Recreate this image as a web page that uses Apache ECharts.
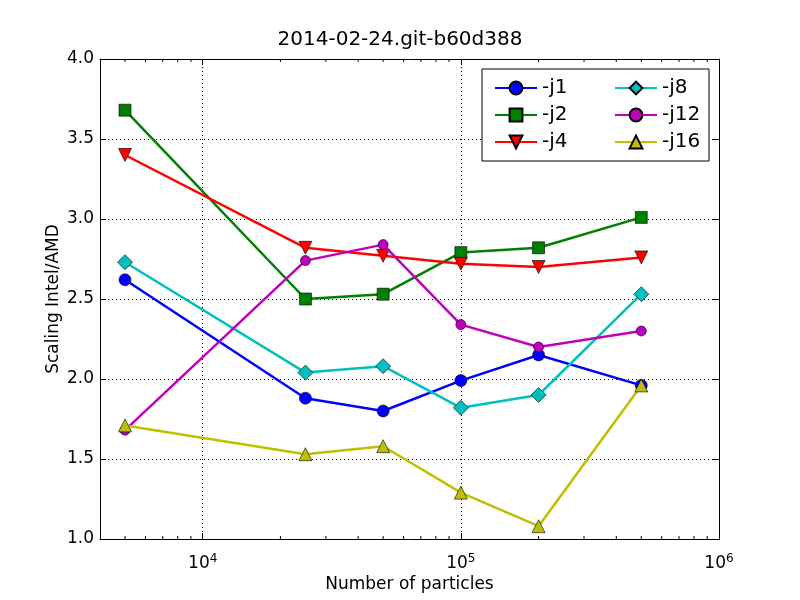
<!DOCTYPE html>
<html>
<head>
<meta charset="utf-8">
<script src="https://cdn.jsdelivr.net/npm/echarts@6/dist/echarts.min.js"></script>
<style>html,body{margin:0;padding:0;background:#fff;}#c{width:800px;height:600px;}</style>
</head>
<body>
<div id="c"></div>
<script>
const particles = [5000, 25000, 50000, 100000, 200000, 500000];
const j1  = [2.62, 1.88, 1.80, 1.99, 2.15, 1.96];
const j2  = [3.68, 2.50, 2.53, 2.79, 2.82, 3.01];
const j4  = [3.40, 2.82, 2.77, 2.72, 2.70, 2.76];
const j8  = [2.73, 2.04, 2.08, 1.82, 1.90, 2.53];
const j12 = [1.68, 2.74, 2.84, 2.34, 2.20, 2.30];
const j16 = [1.71, 1.53, 1.58, 1.29, 1.08, 1.96];
const seriesNames = ['-j1', '-j2', '-j4', '-j8', '-j12', '-j16'];
const yTicks = [1.0, 1.5, 2.0, 2.5, 3.0, 3.5, 4.0];
const xMajorTicks = [1e4, 1e5, 1e6];
const xMinorTicks = [5000, 6000, 7000, 8000, 9000,
  20000, 30000, 40000, 50000, 60000, 70000, 80000, 90000,
  200000, 300000, 400000, 500000, 600000, 700000, 800000, 900000];

const allData = [j1, j2, j4, j8, j12, j16];
const colors = ['#0000ff', '#008000', '#ff0000', '#00bfbf', '#bf00bf', '#bfbf00'];
const symbols = ['circle', 'rect', 'triangle', 'diamond', 'circle', 'triangle'];
const symRot = [0, 0, 180, 0, 0, 0];
const symSizes = [12, 12, 13, 15, 10, 13];

const FONT = 'DejaVu Sans';

function isPow10(v) {
  const l = Math.log10(v);
  return Math.abs(l - Math.round(l)) < 1e-6;
}

const series = allData.map((d, i) => ({
  name: seriesNames[i],
  type: 'line',
  xAxisIndex: 0, yAxisIndex: 0,
  data: particles.map((x, k) => [x, d[k]]),
  symbol: symbols[i],
  symbolRotate: symRot[i],
  symbolSize: symSizes[i],
  showAllSymbol: true,
  lineStyle: { color: colors[i], width: 2.5 },
  itemStyle: { color: colors[i], borderColor: '#000', borderWidth: 0.6 },
  emphasis: { disabled: true },
  animation: false,
  z: 3 + i
}));

// minor ticks for log x-axis (bottom and top), drawn through the axis scale
series.push({
  type: 'custom',
  xAxisIndex: 0, yAxisIndex: 0,
  data: xMinorTicks.map(v => [v]),
  silent: true,
  animation: false,
  z: 10,
  renderItem: function (params, api) {
    const x = api.coord([api.value(0), 1.0])[0];
    const yb = api.coord([api.value(0), 1.0])[1];
    const yt = api.coord([api.value(0), 4.0])[1];
    return {
      type: 'group',
      children: [
        { type: 'line', shape: { x1: x, y1: yb, x2: x, y2: yb - 3 }, style: { stroke: '#000', lineWidth: 1 } },
        { type: 'line', shape: { x1: x, y1: yt, x2: x, y2: yt + 3 }, style: { stroke: '#000', lineWidth: 1 } }
      ]
    };
  }
});

const legendCommon = {
  orient: 'vertical',
  itemWidth: 42,
  itemHeight: 16,
  itemGap: 7,
  z: 100,
  textStyle: { fontFamily: FONT, fontSize: 20, color: '#000' },
  selectedMode: false
};

const option = {
  animation: false,
  backgroundColor: '#fff',
  title: {
    text: '2014-02-24.git-b60d388',
    left: 'center',
    top: 25,
    textStyle: { fontFamily: FONT, fontSize: 20, fontWeight: 'normal', color: '#000' }
  },
  legend: [
    Object.assign({ left: 489, top: 73, data: seriesNames.slice(0, 3) }, legendCommon),
    Object.assign({ left: 609, top: 73, data: seriesNames.slice(3, 6) }, legendCommon)
  ],
  graphic: [{
    type: 'rect',
    shape: { x: 482, y: 69, width: 227, height: 92 },
    style: { fill: '#fff', stroke: '#000', lineWidth: 1 },
    z: 50
  }],
  grid: { left: 100, right: 81, top: 59, bottom: 61, containLabel: false },
  xAxis: [{
    type: 'log', logBase: 10, min: 4000, max: 1000000,
    position: 'bottom',
    name: 'Number of particles', nameLocation: 'middle', nameGap: 37,
    nameMoveOverlap: false,
    nameTextStyle: { fontFamily: FONT, fontSize: 17, color: '#000' },
    axisLine: { show: true, lineStyle: { color: '#000', width: 1 } },
    axisTick: { show: true, inside: true, length: 6, lineStyle: { color: '#000' } },
    axisLabel: {
      margin: 14,
      formatter: function (v) {
        if (!isPow10(v)) return '';
        return '{b|10}{s|' + Math.round(Math.log10(v)) + '}';
      },
      rich: {
        b: { fontFamily: FONT, fontSize: 17, color: '#000' },
        s: { fontFamily: FONT, fontSize: 12, color: '#000', padding: [0, 0, 10, 0] }
      }
    },
    splitLine: { show: true, lineStyle: { color: '#000', type: [1, 3], width: 1 } }
  }, {
    type: 'log', logBase: 10, min: 4000, max: 1000000,
    position: 'top',
    axisLine: { show: true, lineStyle: { color: '#000', width: 1 } },
    axisTick: { show: true, inside: true, length: 6, lineStyle: { color: '#000' } },
    axisLabel: { show: false },
    splitLine: { show: false }
  }],
  yAxis: [{
    type: 'value', min: yTicks[0], max: yTicks[yTicks.length - 1], interval: 0.5,
    position: 'left',
    name: 'Scaling Intel/AMD', nameLocation: 'middle', nameGap: 38,
    nameMoveOverlap: false,
    nameTextStyle: { fontFamily: FONT, fontSize: 17, color: '#000' },
    axisLine: { show: true, lineStyle: { color: '#000', width: 1 } },
    axisTick: { show: true, inside: true, length: 6, lineStyle: { color: '#000' } },
    axisLabel: {
      margin: 6,
      fontFamily: FONT, fontSize: 17, color: '#000',
      formatter: v => v.toFixed(1)
    },
    splitLine: { show: true, lineStyle: { color: '#000', type: [1, 3], width: 1 } }
  }, {
    type: 'value', min: yTicks[0], max: yTicks[yTicks.length - 1], interval: 0.5,
    position: 'right',
    axisLine: { show: true, lineStyle: { color: '#000', width: 1 } },
    axisTick: { show: true, inside: true, length: 6, lineStyle: { color: '#000' } },
    axisLabel: { show: false },
    splitLine: { show: false }
  }],
  series: series
};

const chart = echarts.init(document.getElementById('c'), null, { renderer: 'canvas' });
chart.setOption(option);
</script>
</body>
</html>
